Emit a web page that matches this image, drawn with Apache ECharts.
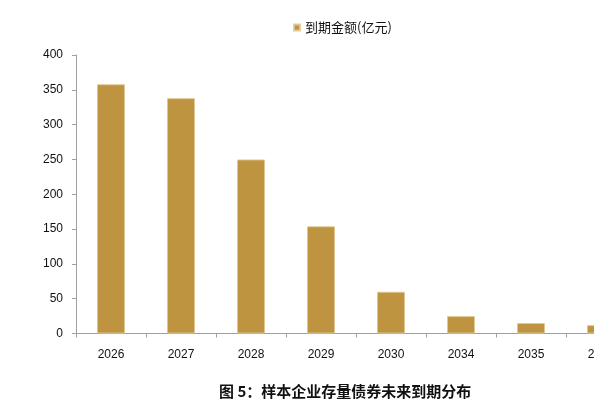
<!DOCTYPE html>
<html>
<head>
<meta charset="utf-8">
<script src="https://cdn.jsdelivr.net/npm/echarts@6/dist/echarts.min.js"></script>
<style>
  html, body { margin: 0; padding: 0; background: #fff; overflow: hidden; }
  /* 原图右侧被裁掉，容器比窗口宽 */
  #main { width: 680px; height: 402px; }
</style>
</head>
<body>
<div id="main"></div>
<script>
// 到期年份
const years = ["2026", "2027", "2028", "2029", "2030", "2034", "2035", "2036"];
// 到期金额(亿元)
const amounts = [358, 338, 250, 154, 60, 25, 15, 12];
const yTicks = [0, 50, 100, 150, 200, 250, 300, 350, 400];

const chart = echarts.init(document.getElementById("main"));

const option = {
  animation: false,
  title: {
    text: "图 5：样本企业存量债券未来到期分布",
    left: 214,
    top: 379,
    textStyle: {
      fontFamily: "Noto Sans CJK SC",
      fontSize: 15,
      fontWeight: "bold",
      color: "#111"
    }
  },
  legend: {
    data: ["到期金额(亿元)"],
    left: 288,
    top: 16,
    itemWidth: 6,
    itemHeight: 6,
    itemGap: 4,
    icon: "rect",
    textStyle: { fontFamily: "Noto Sans CJK SC", fontSize: 13, color: "#111" }
  },
  grid: { left: 76, right: 44, top: 55, bottom: 68.5 },
  xAxis: {
    type: "category",
    data: years,
    axisLine: { lineStyle: { color: "#a0a0a0" } },
    axisTick: { show: true, length: 4, lineStyle: { color: "#a0a0a0" } },
    axisLabel: {
      margin: 15,
      fontFamily: "Liberation Sans",
      fontSize: 12,
      color: "#111",
      interval: 0
    }
  },
  yAxis: {
    type: "value",
    min: yTicks[0],
    max: yTicks[yTicks.length - 1],
    interval: yTicks[1] - yTicks[0],
    splitLine: { show: false },
    axisLine: { show: true, lineStyle: { color: "#a0a0a0" } },
    axisTick: { show: true, length: 4, lineStyle: { color: "#a0a0a0" } },
    axisLabel: {
      margin: 13,
      fontFamily: "Liberation Sans",
      fontSize: 12,
      color: "#111"
    }
  },
  series: [
    {
      name: "到期金额(亿元)",
      type: "bar",
      data: amounts,
      barWidth: 28,
      itemStyle: {
        color: "#BF9440",
        borderColor: "rgba(225,200,150,0.9)",
        borderWidth: 1
      }
    }
  ]
};

chart.setOption(option);
</script>
</body>
</html>
